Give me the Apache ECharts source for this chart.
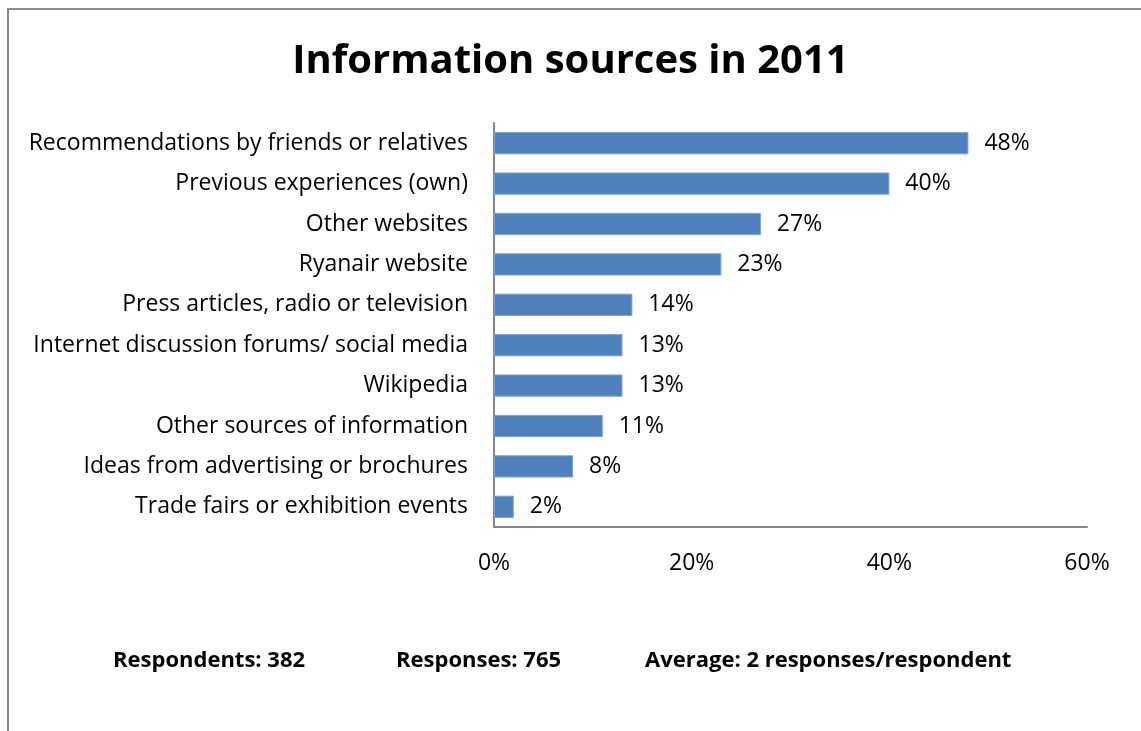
<!DOCTYPE html>
<html>
<head>
<meta charset="utf-8">
<script src="https://cdn.jsdelivr.net/npm/echarts@6/dist/echarts.min.js"></script>
<style>
  html, body { margin: 0; padding: 0; background: #fff; }
  #chart { width: 1141px; height: 731px; }
</style>
</head>
<body>
<div id="chart"></div>
<script>
// Information sources named by respondents, 2011 (share of respondents, %)
const categories = [
  'Recommendations by friends or relatives',
  'Previous experiences (own)',
  'Other websites',
  'Ryanair website',
  'Press articles, radio or television',
  'Internet discussion forums/ social media',
  'Wikipedia',
  'Other sources of information',
  'Ideas from advertising or brochures',
  'Trade fairs or exhibition events'
];
const shares = [48, 40, 27, 23, 14, 13, 13, 11, 8, 2];
const axisTicks = [0, 20, 40, 60];
const footerNotes = [
  'Respondents: 382',
  'Responses: 765',
  'Average: 2 responses/respondent'
];

const FONT = '"Open Sans", "Noto Sans", sans-serif';
const chart = echarts.init(document.getElementById('chart'), null, { renderer: 'canvas' });

// Horizontal bars: first category on top
const cats = categories.slice().reverse();
const vals = shares.slice().reverse();

const footerStyle = text => ({
  text,
  fontFamily: FONT, fontSize: 22, fontWeight: 'bold', fill: '#000',
  textVerticalAlign: 'middle'
});

chart.setOption({
  backgroundColor: '#ffffff',
  animation: false,
  title: {
    text: 'Information sources in 2011',
    left: 'center',
    top: 37,
    textStyle: { fontFamily: FONT, fontSize: 40, fontWeight: 'bold', color: '#000' }
  },
  grid: { left: 494, right: 54, top: 123, bottom: 204, containLabel: false },
  xAxis: {
    type: 'value',
    min: axisTicks[0],
    max: axisTicks[axisTicks.length - 1],
    interval: axisTicks[1] - axisTicks[0],
    axisLine: { show: true, lineStyle: { color: '#868686', width: 2 } },
    axisTick: { show: false },
    splitLine: { show: false },
    axisLabel: {
      margin: 25,
      fontFamily: FONT, fontSize: 23, color: '#000',
      formatter: v => v + '%'
    }
  },
  yAxis: {
    type: 'category',
    data: cats,
    axisLine: { show: true, lineStyle: { color: '#868686', width: 2 } },
    axisTick: { show: false },
    axisLabel: { margin: 26, fontFamily: FONT, fontSize: 23, color: '#000' }
  },
  series: [{
    type: 'bar',
    data: vals,
    barCategoryGap: '45%',
    itemStyle: { color: '#4F81BD', borderColor: '#7A9FD0', borderWidth: 1 },
    label: {
      show: true,
      position: 'right',
      distance: 16,
      fontFamily: FONT, fontSize: 23, color: '#000',
      formatter: p => p.value + '%'
    }
  }],
  graphic: [
    // frame around the chart area (top and left edges visible)
    {
      type: 'rect',
      shape: { x: 8, y: 9, width: 1200, height: 800 },
      style: { fill: 'none', stroke: '#888888', lineWidth: 2 },
      silent: true
    },
    { type: 'text', x: 113, y: 661, style: footerStyle(footerNotes[0]) },
    { type: 'text', x: 396, y: 661, style: footerStyle(footerNotes[1]) },
    { type: 'text', x: 645, y: 661, style: footerStyle(footerNotes[2]) }
  ]
});
</script>
</body>
</html>
